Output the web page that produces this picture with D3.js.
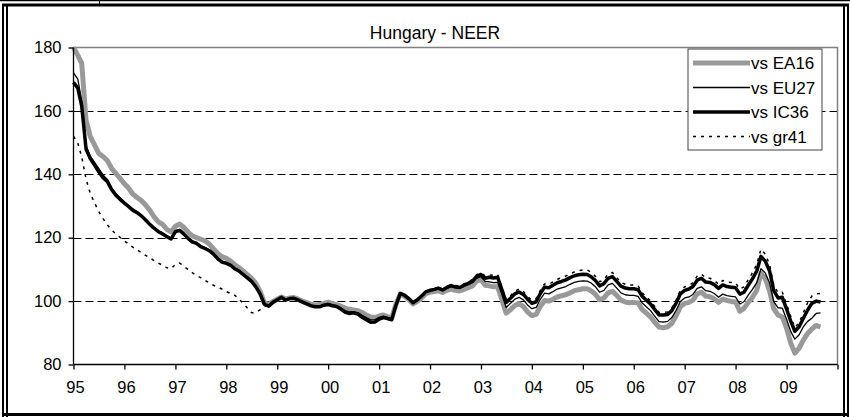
<!DOCTYPE html>
<meta charset="utf-8">
<style>
body { margin: 0; background: #fff; }
text { font-family: "Liberation Sans", Arial, sans-serif; font-size: 16.5px; fill: #000; }
.title { font-size: 17.5px; }
.legend text { font-size: 17px; }
.grid line { stroke: #000; stroke-width: 1; stroke-dasharray: 8,4; }
.frame line { stroke: #000; }
</style>
<body>
<svg width=850 height=417></svg>
</body>
<script src="https://d3js.org/d3.v7.min.js"></script>
<script>
// monthly NEER indices, Jan 1995 .. Sep 2009
const ea16 = [
  180, 177.5, 175, 157, 152, 149.3, 146.6, 145.6, 144.3, 141.9, 140.3, 138.7,
  137, 135.6, 133.8, 132.7, 131.7, 130.3, 128.7, 126.6, 125, 124.2, 122.6, 121.9,
  123.6, 124.3, 123.3, 121.8, 120.6, 120, 119.5, 119, 118, 116.5, 115, 114,
  113.5, 112.6, 111.5, 110.6, 109.5, 108.3, 107.2, 105.6, 103, 99.5, 98.9, 99.9,
  100.6, 101.3, 100.6, 101, 101.1, 100.6, 100, 99.5, 99, 98.8, 98.9, 99.3,
  99.7, 99.2, 98.9, 98.4, 97.8, 97.4, 97.2, 97, 96.4, 95.6, 95, 94.8,
  95.3, 95.6, 95.1, 94.6, 99, 102.2, 101.6, 100.5, 99.1, 99.9, 101, 102.3,
  102.8, 103, 103.3, 102.7, 103.4, 103.8, 103.4, 103.2, 103.7, 104.2, 104.8, 106.3,
  106.8, 105, 104.8, 104.5, 104.5, 100.3, 96.2, 97.3, 98.6, 99.2, 98.3, 96.6,
  95.4, 95.8, 98.3, 100.2, 100, 100.6, 101.3, 101.7, 102, 102.6, 103.3, 103.6,
  103.9, 103.9, 103.3, 102.1, 100.4, 101, 102.6, 103.1, 101.8, 100.3, 99.7, 99.5,
  99.6, 99.4, 97.4, 96.2, 95, 93.3, 91.8, 91.6, 91.9, 93, 95.4, 98.2,
  99.3, 99.6, 100.3, 102.3, 102.8, 101.6, 101.4, 100.7, 99.6, 100.6, 100.2, 99.9,
  99.7, 96.8, 97.7, 99.6, 101.2, 103.4, 108.8, 107.1, 103.2, 97.6, 95.6, 95,
  91.4, 86.6, 83.6, 85.2, 87.7, 89.8, 91.2, 92.3, 91.9
]
const eu27 = [
  172, 170, 163, 149, 145.8, 143.8, 141.9, 139.8, 138.4, 135.8, 133.9, 132.6,
  131.3, 130.1, 129, 128.2, 127.2, 125.9, 124.5, 123.3, 122.2, 121.5, 120.6, 119.9,
  122.2, 122.6, 121.5, 120.1, 119, 118.5, 117.5, 116.9, 116.2, 115.1, 113.6, 112.6,
  112.2, 111.6, 110.5, 109.8, 108.7, 107.6, 106.4, 104.7, 102.4, 99.2, 98.6, 99.8,
  100.5, 101.2, 100.4, 100.8, 100.9, 100.4, 99.8, 99.2, 98.7, 98.4, 98.4, 98.9,
  99.3, 98.9, 98.6, 97.9, 97, 96.6, 96.7, 96.4, 95.5, 94.8, 94.1, 94.1,
  94.9, 95.3, 94.9, 94.4, 98.8, 102.4, 101.9, 100.8, 99.5, 100.3, 101.5, 102.8,
  103.3, 103.6, 104, 103.4, 104.1, 104.6, 104.2, 104, 104.6, 105.2, 105.8, 107.2,
  107.7, 106.2, 106.1, 105.8, 105.9, 101.9, 98, 99.3, 100.6, 101.2, 100.4, 98.8,
  97.6, 98, 100.5, 102.5, 102.3, 103, 103.8, 104.2, 104.6, 105.3, 105.9, 106.2,
  106.4, 106.3, 105.7, 104.5, 102.8, 103.4, 105.1, 105.6, 104.1, 102.6, 102, 101.8,
  101.8, 101.5, 99.5, 98.2, 97, 95.2, 93.5, 93.4, 93.6, 94.8, 97.1, 99.9,
  101, 101.3, 102.1, 104, 104.5, 103.3, 103.1, 102.4, 101.2, 102.2, 101.7, 101.5,
  101.3, 99.1, 99.8, 101.9, 103.7, 105.8, 110.2, 108.9, 105.7, 99.8, 97.9, 97.8,
  94.2, 90.3, 88, 89.4, 91.9, 93.6, 94.6, 96.1, 96.3
]
const ic36 = [
  169, 167.2, 161.5, 148, 145, 142.9, 140.8, 138.9, 137.7, 135.2, 133.4, 132.1,
  130.9, 129.8, 128.7, 127.9, 126.9, 125.6, 124.2, 123, 121.9, 121.2, 120.3, 119.6,
  121.9, 122.3, 121.2, 119.8, 118.7, 118.2, 117.2, 116.6, 115.9, 114.8, 113.3, 112.3,
  111.9, 111.3, 110.2, 109.5, 108.4, 107.3, 106.2, 104.5, 102.2, 99, 98.4, 99.6,
  100.4, 101.2, 100.3, 100.8, 100.9, 100.3, 99.7, 99.1, 98.5, 98.2, 98.2, 98.7,
  98.9, 98.5, 98.3, 97.5, 96.5, 96.1, 96.3, 95.9, 94.9, 94.1, 93.3, 93.4,
  94.3, 94.8, 94.5, 94.1, 98.6, 102.4, 101.9, 100.8, 99.5, 100.4, 101.6, 102.9,
  103.4, 103.7, 104.1, 103.5, 104.3, 104.9, 104.5, 104.3, 105, 105.6, 106.3, 107.8,
  108.4, 107.2, 107.5, 107.3, 107.5, 103.5, 99.6, 100.9, 102.3, 102.9, 102.1, 100.6,
  99.3, 99.8, 102.3, 104.4, 104.2, 105, 105.8, 106.2, 106.7, 107.4, 108, 108.3,
  108.5, 108.4, 107.7, 106.5, 104.8, 105.5, 107.2, 107.7, 106.2, 104.7, 104.1, 103.9,
  103.9, 103.6, 101.6, 100.3, 99.1, 97.3, 95.6, 95.6, 95.8, 97, 99.4, 102.3,
  103.4, 103.8, 104.6, 106.6, 107.2, 106, 105.9, 105.2, 104, 105.1, 104.6, 104.4,
  104.2, 102.2, 102.8, 105, 107, 109.5, 114.1, 112.6, 109.5, 103.3, 101, 101.2,
  97.5, 93.5, 90.5, 91.9, 94.6, 97.2, 99.3, 100, 99.7
]
const gr41 = [
  152, 149.8, 145.5, 138.5, 134, 131, 128.3, 126, 124, 122.4, 121.2, 120.1,
  119, 118, 117, 116.2, 115.3, 114.4, 113.6, 112.8, 112, 111.3, 110.5, 110.2,
  111.6, 112, 111, 110, 109, 108.1, 107.4, 106.5, 105.8, 105, 104.4, 103.8,
  103, 102.4, 101.9, 100.7, 99.3, 97.8, 96.3, 96.4, 97.3, 98.3, 98.6, 99.7,
  100.5, 101.3, 100.4, 100.9, 101, 100.4, 99.8, 99.2, 98.6, 98.3, 98.3, 98.8,
  99, 98.6, 98.4, 97.6, 96.6, 96.2, 96.4, 96, 95, 94.2, 93.4, 93.5,
  94.4, 94.9, 94.6, 94.2, 98.7, 102.6, 102.1, 101, 99.7, 100.6, 101.8, 103.1,
  103.6, 103.9, 104.4, 103.8, 104.6, 105.2, 104.9, 104.7, 105.4, 106, 106.8, 108.3,
  108.9, 107.9, 108.3, 108.1, 108.3, 104.3, 100.4, 101.7, 103.1, 103.8, 103, 101.5,
  100.3, 100.8, 103.3, 105.4, 105.3, 106.1, 106.9, 107.4, 107.9, 108.6, 109.2, 109.6,
  109.8, 109.8, 109.1, 107.8, 106.1, 106.8, 108.5, 109, 107.4, 105.9, 105.3, 105.1,
  105.1, 104.8, 102.7, 101.3, 100.1, 98.2, 96.4, 96.4, 96.6, 97.9, 100.4, 103.4,
  104.5, 104.9, 105.8, 107.9, 108.5, 107.3, 107.2, 106.5, 105.3, 106.5, 106, 105.9,
  105.7, 103.8, 104.5, 106.8, 108.9, 111.6, 116.4, 114.8, 111.5, 105, 102.6, 102.8,
  99, 95, 91.6, 93.2, 96.3, 99.5, 101.6, 102.3, 102.4
]
const seriesNames = ["vs EA16", "vs EU27", "vs IC36", "vs gr41"]
const yearLabels = ["95", "96", "97", "98", "99", "00", "01", "02", "03", "04", "05", "06", "07", "08", "09"]
const yTicks = [80, 100, 120, 140, 160, 180]
const title = "Hungary - NEER"

const svg = d3.select("svg")

// outer frame (table cell + chart border)
const frame = svg.append("g").attr("class", "frame")
frame.append("line").attr("x1", 0).attr("x2", 850).attr("y1", 0.5).attr("y2", 0.5).attr("stroke-width", 1.5)
frame.append("line").attr("x1", 99.5).attr("x2", 99.5).attr("y1", 0).attr("y2", 4).attr("stroke-width", 1)
frame.append("line").attr("x1", 2).attr("x2", 849).attr("y1", 5).attr("y2", 5).attr("stroke-width", 3)
frame.append("line").attr("x1", 3).attr("x2", 3).attr("y1", 4).attr("y2", 417).attr("stroke-width", 2)
frame.append("line").attr("x1", 7).attr("x2", 7).attr("y1", 4).attr("y2", 417).attr("stroke-width", 2)
frame.append("line").attr("x1", 844).attr("x2", 844).attr("y1", 4).attr("y2", 417).attr("stroke-width", 2)
frame.append("line").attr("x1", 848).attr("x2", 848).attr("y1", 4).attr("y2", 417).attr("stroke-width", 2)
frame.append("line").attr("x1", 2).attr("x2", 849).attr("y1", 414.5).attr("y2", 414.5).attr("stroke-width", 3)

const months = d3.range(ic36.length).map(i => new Date(1995, i, 1))

const x = d3.scaleTime()
  .domain([new Date(1995, 0, 1), new Date(2010, 0, 1)])
  .range([73.5, 837.5])
const y = d3.scaleLinear()
  .domain([80, 180])
  .range([364.5, 47.5])

// horizontal dashed grid
svg.append("g").attr("class", "grid")
  .selectAll("line")
  .data(yTicks.filter(v => v > 80 && v < 180))
  .enter().append("line")
    .attr("x1", x.range()[0]).attr("x2", x.range()[1])
    .attr("y1", d => Math.round(y(d)) + 0.5).attr("y2", d => Math.round(y(d)) + 0.5)

// plot area border (top and right, grey)
svg.append("path")
  .attr("d", `M${x.range()[0]},${y(180)}H${x.range()[1]}V${y(80)}`)
  .attr("fill", "none").attr("stroke", "#808080").attr("stroke-width", 1.5)

const styles = [
  {data: ea16, stroke: "#999999", width: 5, dash: null},
  {data: eu27, stroke: "#000", width: 1.3, dash: null},
  {data: ic36, stroke: "#000", width: 3.5, dash: null},
  {data: gr41, stroke: "#000", width: 1.5, dash: "3,5"}
]

const line = d3.line()
  .x((d, i) => x(months[i]))
  .y(d => y(d))

svg.append("g").selectAll("path")
  .data(styles)
  .enter().append("path")
    .attr("d", d => line(d.data))
    .attr("fill", "none")
    .attr("stroke", d => d.stroke)
    .attr("stroke-width", d => d.width)
    .attr("stroke-dasharray", d => d.dash)
    .attr("stroke-linejoin", "round")

// axes
const yearTicks = d3.range(1995, 2011).map(yr => new Date(yr, 0, 1))
const xAxis = svg.append("g").attr("transform", `translate(0,${y(80)})`)
  .call(d3.axisBottom(x).tickValues(yearTicks).tickSize(5).tickFormat(""))
xAxis.select(".domain").attr("d", `M${x.range()[0]},0H${x.range()[1]}`).attr("stroke-width", 1.3)
xAxis.selectAll(".tick line").attr("stroke-width", 1.3)

svg.append("g").selectAll("text")
  .data(yearLabels)
  .enter().append("text")
    .attr("x", (d, i) => x(yearTicks[i]) + 2)
    .attr("y", 393)
    .attr("text-anchor", "middle")
    .text(d => d)

const yAxis = svg.append("g").attr("transform", `translate(${x.range()[0]},0)`)
  .call(d3.axisLeft(y).tickValues(yTicks).tickSize(5).tickPadding(7))
yAxis.select(".domain").attr("d", `M0,${y(180)}V${y(80)}`).attr("stroke-width", 1.3)
yAxis.selectAll(".tick line").attr("stroke-width", 1.3)
yAxis.attr("font-size", null).attr("font-family", null)

// title
svg.append("text")
  .attr("class", "title")
  .attr("x", 435).attr("y", 39)
  .attr("text-anchor", "middle")
  .text(title)

// legend
const lg = svg.append("g").attr("class", "legend").attr("transform", "translate(688,49)")
lg.append("rect").attr("width", 134).attr("height", 101)
  .attr("fill", "#fff").attr("stroke", "#404040").attr("stroke-width", 1)
styles.forEach((s, i) => {
  const yy = 14 + i * 24.5
  lg.append("line")
    .attr("x1", 5).attr("x2", 62).attr("y1", yy).attr("y2", yy)
    .attr("stroke", s.stroke).attr("stroke-width", s.width)
    .attr("stroke-dasharray", s.dash)
  lg.append("text")
    .attr("x", 63).attr("y", yy + 6)
    .text(seriesNames[i])
})
</script>
